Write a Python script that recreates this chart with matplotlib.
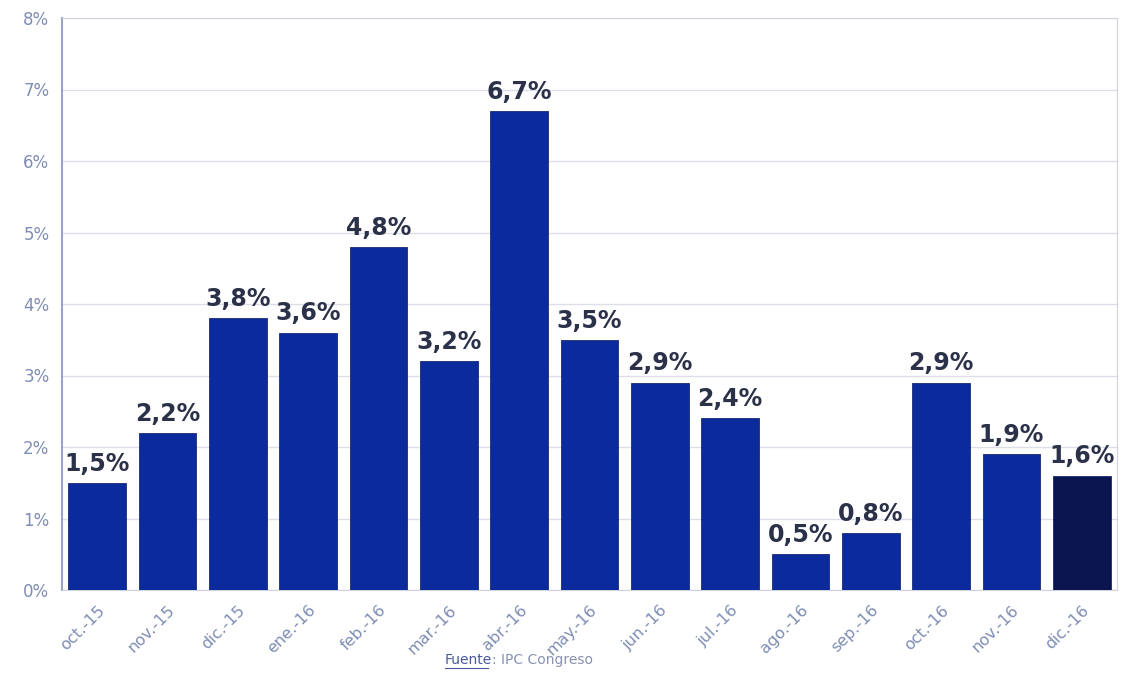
import matplotlib
matplotlib.use("Agg")
import matplotlib.pyplot as plt
import numpy as np

categories = ["oct.-15", "nov.-15", "dic.-15", "ene.-16", "feb.-16", "mar.-16", "abr.-16",
              "may.-16", "jun.-16", "jul.-16", "ago.-16", "sep.-16", "oct.-16", "nov.-16", "dic.-16"]
values = [1.5, 2.2, 3.8, 3.6, 4.8, 3.2, 6.7, 3.5, 2.9, 2.4, 0.5, 0.8, 2.9, 1.9, 1.6]
labels = ["1,5%", "2,2%", "3,8%", "3,6%", "4,8%", "3,2%", "6,7%", "3,5%", "2,9%", "2,4%",
          "0,5%", "0,8%", "2,9%", "1,9%", "1,6%"]
yticks = [0, 1, 2, 3, 4, 5, 6, 7, 8]

fig = plt.figure(figsize=(11.32, 6.73), dpi=100)
ax = fig.add_axes([62/1132, 1-590/673, (1117-62)/1132, (590-18)/673])

x = np.arange(len(categories))
colors = ["#0b2a9c"] * (len(categories) - 1) + ["#0a1550"]
ax.bar(x, values, width=0.82, color=colors, edgecolor="#1a2a70", linewidth=0.6, zorder=3)

for xi, v, lab in zip(x, values, labels):
    ax.text(xi, v + 0.1, lab, ha="center", va="bottom", fontsize=17, fontweight="bold",
            color="#2a3148", zorder=4)

ax.set_xlim(-0.5, len(categories) - 0.5)
ax.set_ylim(0, 8)
ax.set_yticks(yticks)
ax.set_yticklabels([f"{t}%" for t in yticks], color="#7f8db5", fontsize=12)
ax.set_xticks(x)
ax.set_xticklabels(categories, rotation=45, ha="right", rotation_mode="anchor",
                   color="#7f8db5", fontsize=11.5)
ax.tick_params(axis="both", length=0, pad=9)
ax.grid(axis="y", color="#dcdfe8", linewidth=1, zorder=0)
for s in ["top", "right", "bottom"]:
    ax.spines[s].set_color("#cfd3dd")
ax.spines["left"].set_color("#9aa4c4")
ax.spines["left"].set_linewidth(1.5)

fig.text(445/1132, 1-660/673, "Fuente", color="#4a5a9a", fontsize=10, ha="left", va="center")
fig.add_artist(plt.Line2D([445/1132, 488/1132], [1-668/673, 1-668/673], color="#4a5a9a", linewidth=0.8))
fig.text(492/1132, 1-660/673, ": IPC Congreso", color="#8892b0", fontsize=10, ha="left", va="center")

fig.savefig("out.png", dpi=100)
